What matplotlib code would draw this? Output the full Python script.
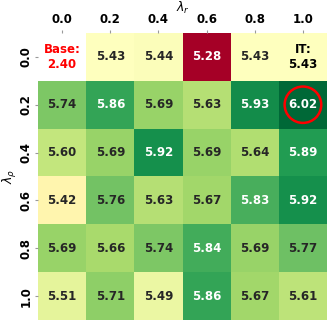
import numpy as np
import matplotlib
matplotlib.use("Agg")
import matplotlib.pyplot as plt
import matplotlib.colors as mcolors
from matplotlib.patches import Circle
import seaborn as sns

lambda_r = ["0.0", "0.2", "0.4", "0.6", "0.8", "1.0"]
lambda_rho = ["0.0", "0.2", "0.4", "0.6", "0.8", "1.0"]

# rows = lambda_rho, cols = lambda_r ; base cell (0,0) kept as nan
scores = np.array([
    [np.nan, 5.43, 5.44, 5.28, 5.43, 5.43],
    [5.74, 5.86, 5.69, 5.63, 5.93, 6.02],
    [5.60, 5.69, 5.92, 5.69, 5.64, 5.89],
    [5.42, 5.76, 5.63, 5.67, 5.83, 5.92],
    [5.69, 5.66, 5.74, 5.84, 5.69, 5.77],
    [5.51, 5.71, 5.49, 5.86, 5.67, 5.61],
])
base_score = 2.40
it_score = 5.43

labels = np.array([["%.2f" % v if not np.isnan(v) else "" for v in row] for row in scores], dtype=object)
labels[0, 5] = "IT:\n%.2f" % it_score

best = np.unravel_index(np.nanargmax(scores), scores.shape)

norm = mcolors.TwoSlopeNorm(vmin=np.nanmin(scores), vcenter=it_score, vmax=np.nanmax(scores))

fig = plt.figure(figsize=(3.32, 3.25), dpi=100)
ax = fig.add_axes([0.1145, 0.0154, 0.8705, 0.8831])

sns.heatmap(scores, ax=ax, cmap="RdYlGn", norm=norm, annot=labels, fmt="",
            cbar=False, mask=np.isnan(scores),
            annot_kws={"fontsize": 8.5, "fontweight": "bold"},
            xticklabels=lambda_r, yticklabels=lambda_rho)

# IT cell label in black regardless of background
for t in ax.texts:
    if t.get_text().startswith("IT"):
        t.set_color("black")

ax.text(0.5, 0.5, "Base:\n%.2f" % base_score, ha="center", va="center",
        color="red", fontsize=8.5, fontweight="bold")

ax.add_patch(Circle((best[1] + 0.5, best[0] + 0.5), 0.38, fill=False,
                    edgecolor="red", lw=1.8))

ax.xaxis.tick_top()
ax.xaxis.set_label_position("top")
ax.set_xlabel(r"$\lambda_r$", fontsize=9, labelpad=1)
ax.set_ylabel(r"$\lambda_\rho$", fontsize=9, labelpad=0)
plt.setp(ax.get_xticklabels(), fontweight="bold", fontsize=8.5, rotation=0)
plt.setp(ax.get_yticklabels(), fontweight="bold", fontsize=8.5, rotation=90, va="center")
ax.tick_params(length=2, color="#999999", pad=3)
ax.tick_params(axis="y", pad=2)

fig.savefig("out.png", dpi=100)
